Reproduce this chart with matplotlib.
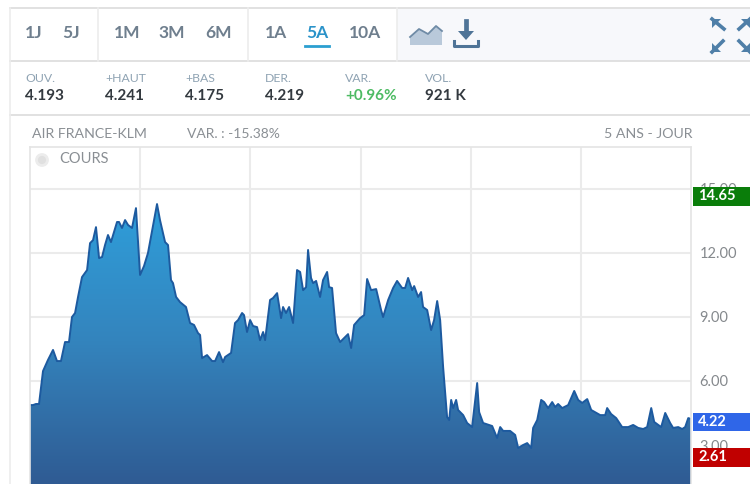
import numpy as np
import matplotlib
matplotlib.use("Agg")
import matplotlib.pyplot as plt
from matplotlib.colors import LinearSegmentedColormap
from matplotlib.patches import Circle, Polygon, Rectangle
from matplotlib.transforms import blended_transform_factory

plt.rcParams['font.family'] = ['Lato', 'DejaVu Sans']

# cours de cloture, x en mois depuis le debut de la periode de 5 ans
months = [0, .27, .54, .82, 1.0, 1.18, 1.63, 2.09, 2.45, 2.81, 3.18, 3.54, 3.81, 4.09, 4.36, 4.72,
          5.18, 5.45, 5.72, 5.99, 6.27, 6.54, 6.81, 7.08, 7.35, 7.9, 8.08, 8.35, 8.63, 8.9, 9.26, 9.62,
          9.99, 10.35, 10.71, 11.26, 11.53, 11.8, 12.26, 12.53, 12.8, 12.98, 13.26, 13.62, 14.16, 14.53,
          14.89, 15.25, 15.44, 15.62, 16.07, 16.53, 16.8, 17.16, 17.52, 17.71, 18.25, 18.61, 18.89, 19.25,
          19.43, 19.7, 19.98, 20.25, 20.61, 20.88, 21.16, 21.34, 21.79, 22.06, 22.43, 22.79, 22.97, 23.24,
          23.52, 23.88, 24.24, 24.52, 24.79, 25.06, 25.24, 25.51, 25.7, 25.97, 26.33, 26.6, 26.97, 27.15,
          27.42, 27.78, 28.15, 28.6, 28.87, 29.15, 29.42, 29.96, 30.33, 30.6, 30.96, 31.42, 31.87, 32.05,
          32.51, 32.96, 33.32, 33.78, 34.05, 34.32, 34.69, 34.87, 35.23, 35.5, 35.68, 36.05, 36.41, 36.68,
          36.96, 37.23, 37.5, 37.86, 38.05, 38.23, 38.41, 38.68, 38.86, 39.32, 39.68, 40.13, 40.59, 40.77,
          41.13, 41.95, 42.4, 42.68, 42.95, 43.58, 44.04, 44.31, 44.76, 45.13, 45.49, 45.67, 46.04, 46.4,
          46.67, 47.03, 47.4, 47.67, 47.94, 48.31, 48.85, 49.4, 49.76, 50.12, 50.58, 50.94, 51.76, 52.21,
          52.39, 52.75, 53.21, 53.75, 54.3, 54.75, 55.21, 55.66, 56.02, 56.39, 56.66, 57.02, 57.29, 57.66,
          58.11, 58.38, 58.84, 59.2, 59.47, 59.75, 60]
prices = [4.87, 4.87, 4.92, 4.92, 5.67, 6.46, 6.98, 7.45, 6.93, 6.93, 7.82, 7.82, 8.99, 9.18, 9.93, 10.86,
          11.19, 12.45, 12.59, 13.2, 11.75, 11.8, 12.36, 12.83, 12.5, 13.44, 13.44, 13.16, 13.53, 13.3, 13.16, 14.09,
          10.96, 11.38, 11.99, 13.53, 14.28, 13.53, 12.5, 12.36, 10.72, 10.58, 9.93, 9.69, 9.46, 8.71,
          8.62, 8.24, 8.15, 7.07, 7.21, 6.93, 6.93, 7.35, 6.88, 7.12, 7.31, 8.71, 8.85, 9.18,
          9.08, 8.29, 8.85, 8.57, 8.52, 7.91, 8.29, 7.91, 9.79, 9.88, 10.11, 8.94, 9.46, 9.18,
          9.46, 8.71, 11.19, 11.1, 10.25, 10.39, 12.13, 10.82, 10.58, 10.68, 9.93, 10.72, 11.1, 10.39,
          10.35, 8.24, 7.82, 8.05, 8.19, 7.54, 8.62, 8.94, 9.08, 10.77, 10.25, 10.3, 9.32, 8.99,
          9.79, 10.35, 10.68, 10.35, 10.35, 10.82, 10.25, 10.44, 9.93, 10.16, 9.46, 9.32, 8.38, 8.85,
          9.74, 8.85, 6.65, 4.31, 4.17, 5.11, 4.73, 5.11, 4.64, 4.4, 4.03, 3.84, 5.9, 4.54,
          4.03, 3.89, 3.33, 3.84, 3.66, 3.66, 3.47, 2.86, 3.0, 3.09, 2.86, 3.8, 4.17, 5.11,
          5.01, 4.73, 5.01, 4.78, 4.92, 4.73, 4.87, 5.53, 5.11, 4.97, 5.15, 4.64, 4.4, 4.4,
          4.73, 4.45, 4.26, 3.84, 3.84, 3.94, 3.8, 3.75, 3.84, 4.73, 4.08, 3.94, 3.84, 4.5,
          4.03, 3.8, 3.84, 3.75, 3.84, 4.26, 4.22]

y_ticks = [3, 6, 9, 12, 15]
x_ticks = [10, 20, 30, 40, 50]

range_buttons = [("1J", 34), ("5J", 71), ("1M", 127), ("3M", 172), ("6M", 218),
                 ("1A", 276), ("5A", 317), ("10A", 365)]
quote_labels = ["OUV.", "+HAUT", "+BAS", "DER.", "VAR.", "VOL."]
quote_values = ["4.193", "4.241", "4.175", "4.219", "+0.96%", "921 K"]
quote_x = [25, 105, 185, 265, 345, 425]

last_price = 4.22
high_price = 14.65
low_price = 2.61

GREY = "#8a8f94"
LINE = "#dcdcdc"
ICON = "#4f7fa8"

fig = plt.figure(figsize=(7.5, 4.84), dpi=100)

# bandeau du haut, en coordonnees pixels
ui = fig.add_axes([0, 0, 1, 1])
ui.set_xlim(0, 750)
ui.set_ylim(484, 0)
ui.axis("off")

ui.add_patch(Rectangle((397, 9), 353, 52, color="#f7f8fb", lw=0))
for y in [8, 61, 115]:
    ui.plot([10, 750], [y, y], color=LINE, lw=1.2)
ui.plot([10, 10], [8, 484], color="#ececec", lw=1.2)
for x in [98, 248, 397]:
    ui.plot([x, x], [8, 61], color="#ececec", lw=1.2)

for label, x in range_buttons:
    col = "#2b93c9" if label == "5A" else "#6f7f8e"
    ui.text(x, 33, label, ha="center", va="center", fontsize=12.5, fontweight="bold", color=col)
ui.plot([305, 329], [46, 46], color="#2b9fd0", lw=2)

for label, value, x in zip(quote_labels, quote_values, quote_x):
    ui.text(x, 78, label, ha="left", va="center", fontsize=8.8, color="#8fa3b3")
    col = "#4dbb63" if value.startswith("+") else "#33393f"
    ui.text(x, 96, value, ha="left", va="center", fontsize=11, fontweight="bold", color=col)

ui.text(32, 134, "AIR FRANCE-KLM", ha="left", va="center", fontsize=10.2, color=GREY)
ui.text(187, 134, "VAR. : -15.38%", ha="left", va="center", fontsize=10, color=GREY)
ui.text(692, 134, "5 ANS - JOUR", ha="right", va="center", fontsize=10.2, color=GREY)

# icones de la barre d'outils
ui.add_patch(Polygon([(410, 37), (419, 29), (428, 34), (436, 26), (442, 31), (442, 45), (410, 45)],
                     color="#b9c9da", lw=0))
ui.plot([410, 419, 428, 436, 442], [37, 29, 34, 26, 31], color="#6f8ba6", lw=1.3)
ui.plot([466, 466], [21, 33], color="#4f7497", lw=3.4)
ui.add_patch(Polygon([(458, 31), (474, 31), (466, 40)], color="#4f7497", lw=0))
ui.plot([454, 454, 478, 478], [41, 46, 46, 41], color="#4f7497", lw=2.2)


def arrow(tip, base, corner):
    ui.plot([base[0], tip[0]], [base[1], tip[1]], color=ICON, lw=2.6)
    ui.add_patch(Polygon([tip, (tip[0] + corner[0], tip[1]), (tip[0], tip[1] + corner[1])],
                         color=ICON, lw=0))


arrow((712, 19), (724, 29), (9, 9))
arrow((750, 19), (739, 29), (-9, 9))
arrow((712, 52), (723, 41), (9, -9))
arrow((750, 52), (739, 41), (-9, -9))

# graphique du cours
ax = fig.add_axes([30 / 750, 0, 661 / 750, 337 / 484])
ax.set_facecolor("white")

area = ax.fill_between(months, prices, 0, color="none", lw=0)
ramp = LinearSegmentedColormap.from_list("cours", ["#2e9fdb", "#3484bd", "#2f5b93"])
grad = np.linspace(0, 1, 256).reshape(-1, 1)
img = ax.imshow(grad, cmap=ramp, aspect="auto", extent=[0, 60, 1.175, 14.5], origin="upper", zorder=1)
img.set_clip_path(area.get_paths()[0], transform=ax.transData)
ax.plot(months, prices, color="#1d5a9f", lw=1.4, zorder=2)

ax.set_xlim(0, 60)
ax.set_ylim(1.175, 16.95)
ax.set_xticks(x_ticks)
ax.set_yticks(y_ticks)
ax.set_yticklabels([f"{v:.2f}" for v in y_ticks])
ax.tick_params(axis="x", length=0, labelbottom=False)
ax.tick_params(axis="y", length=0, pad=6, labelsize=10.5, labelcolor="#85898d",
               left=False, right=False, labelleft=False, labelright=True)
ax.grid(True, color="#ebebeb", lw=1.5)
ax.set_axisbelow(True)
for side in ["left", "top", "right"]:
    ax.spines[side].set_color("#e4e4e4")
    ax.spines[side].set_linewidth(1.2)
ax.spines["bottom"].set_visible(False)

# encart de legende
ax.text(0.045, 0.963, "COURS", transform=ax.transAxes, ha="left", va="center", fontsize=10.5, color=GREY)
ui.add_patch(Circle((42, 160), 5.5, facecolor="#e0e0e0", edgecolor="#ececec", lw=2, zorder=6))
ui.set_zorder(3)
ax.set_zorder(2)
ui.patch.set_visible(False)


# etiquettes de prix sur la droite
def price_box(value, color, shift=0.0):
    trans = blended_transform_factory(ax.transAxes, ax.transData)
    y = value - shift
    ax.add_patch(Rectangle((1.003, y - 0.44), 0.09, 0.88, transform=trans, color=color,
                           lw=0, clip_on=False, zorder=5))
    ax.text(1.011, y, f"{value:.2f}", transform=trans, ha="left", va="center",
            fontsize=10.5, color="white", fontweight="bold", zorder=6, clip_on=False)


price_box(high_price, "#0a7d0a")
price_box(last_price, "#2f66e8", 0.14)
price_box(low_price, "#c00000", 0.19)

fig.savefig("out.png", dpi=100)
